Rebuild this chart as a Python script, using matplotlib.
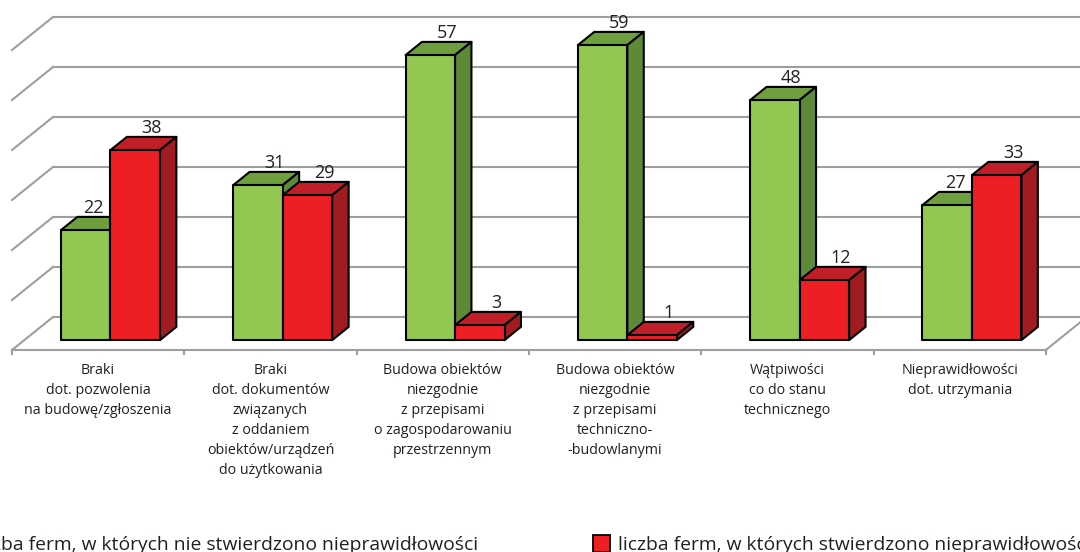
import matplotlib
matplotlib.use("Agg")
import matplotlib.pyplot as plt
from matplotlib.patches import Polygon, Rectangle

plt.rcParams['font.family'] = ['Open Sans', 'DejaVu Sans']

# ---------------- data ----------------
categories = [
    "Braki\ndot. pozwolenia\nna budowę/zgłoszenia",
    "Braki\ndot. dokumentów\nzwiązanych\nz oddaniem\nobiektów/urządzeń\ndo użytkowania",
    "Budowa obiektów\nniezgodnie\nz przepisami\no zagospodarowaniu\nprzestrzennym",
    "Budowa obiektów\nniezgodnie\nz przepisami\ntechniczno-\n-budowlanymi",
    "Wątpiwości\nco do stanu\ntechnicznego",
    "Nieprawidłowości\ndot. utrzymania",
]
no_issues = [22, 31, 57, 59, 48, 27]   # green
issues = [38, 29, 3, 1, 12, 33]        # red
grid_values = [0, 10, 20, 30, 40, 50, 60]
legend_labels = ["liczba ferm, w których nie stwierdzono nieprawidłowości",
                 "liczba ferm, w których stwierdzono nieprawidłowości"]

# ---------------- geometry ----------------
W_PX, H_PX = 1080, 552
PX_CAT = 172.3      # pixels per category
PX_UNIT = 5.0       # pixels per value unit
ORIGIN_X, ORIGIN_Y = 12, 350   # front-left floor corner (pixels from top-left)
DEPTH_X = 41 / PX_CAT
DEPTH_V = 33 / PX_UNIT
BAR_W = 49.5 / PX_CAT
D0, D1 = 0.3, 0.7

green = dict(front="#92c851", top="#6e9e3d", side="#5e8a38")
red = dict(front="#ed1e24", top="#c11f28", side="#a11c21")
grid_col = "#9e9e9e"
text_col = "#231f20"


def proj(x, v, d):
    return (x + d * DEPTH_X, v + d * DEPTH_V)


fig = plt.figure(figsize=(W_PX / 100, H_PX / 100), dpi=100)
ax = fig.add_axes([0, 0, 1, 1])
ax.set_xlim(-ORIGIN_X / PX_CAT, (W_PX - ORIGIN_X) / PX_CAT)
ax.set_ylim(-(H_PX - ORIGIN_Y) / PX_UNIT, ORIGIN_Y / PX_UNIT)
ax.axis('off')

n = len(categories)

# back wall gridlines + left wall diagonals
for v in grid_values:
    p0, p1 = proj(0, v, 1), proj(n + 0.3, v, 1)
    ax.plot([p0[0], p1[0]], [p0[1], p1[1]], color=grid_col, lw=1.5, zorder=1)
    q0, q1 = proj(0, v, 0), proj(0, v, 1)
    ax.plot([q0[0], q1[0]], [q0[1], q1[1]], color=grid_col, lw=1.5, zorder=1)

# floor front edge, right edge and ticks
ax.plot([0, n], [0, 0], color=grid_col, lw=1.5, zorder=1)
r0, r1 = proj(n, 0, 0), proj(n, 0, 1)
ax.plot([r0[0], r1[0]], [r0[1], r1[1]], color=grid_col, lw=1.5, zorder=1)
for i in range(n + 1):
    ax.plot([i, i], [0, -0.8], color=grid_col, lw=1.5, zorder=1)


def draw_bar(x0, x1, val, cols):
    faces = [
        ([proj(x0, val, D0), proj(x1, val, D0), proj(x1, val, D1), proj(x0, val, D1)], cols["top"]),
        ([proj(x1, 0, D0), proj(x1, 0, D1), proj(x1, val, D1), proj(x1, val, D0)], cols["side"]),
        ([proj(x0, 0, D0), proj(x1, 0, D0), proj(x1, val, D0), proj(x0, val, D0)], cols["front"]),
    ]
    for pts, c in faces:
        ax.add_patch(Polygon(pts, closed=True, facecolor=c, edgecolor="black",
                             lw=1.5, joinstyle="round", zorder=3))


for i in range(n):
    c = i + 0.5
    g, r = no_issues[i], issues[i]
    draw_bar(c - BAR_W, c, g, green)
    draw_bar(c, c + BAR_W, r, red)

    gx, gy = proj(c - BAR_W / 2, g, D1)
    shift = -6 if r > g else 0
    ax.annotate(str(g), (gx, gy), xytext=(shift, 3), textcoords="offset points",
                ha="center", va="baseline", fontsize=13, color=text_col, zorder=5)
    rx, ry = proj(c + BAR_W / 2, r, D1)
    ax.annotate(str(r), (rx, ry), xytext=(0, 3), textcoords="offset points",
                ha="center", va="baseline", fontsize=13, color=text_col, zorder=5)

    ax.text(c, -2.6, categories[i], ha="center", va="top", fontsize=10.3,
            color=text_col, linespacing=1.45)

# legend (partly cut off at the edges like in the source)
fig.text(478 / W_PX, 2 / H_PX, legend_labels[0], ha="right", va="baseline",
         fontsize=13.9, color=text_col)
fig.patches.append(Rectangle((593 / W_PX, 0), 17 / W_PX, 17 / H_PX,
                             transform=fig.transFigure, facecolor=red["front"],
                             edgecolor="black", lw=1.3))
fig.text(618 / W_PX, 2 / H_PX, legend_labels[1], ha="left", va="baseline",
         fontsize=13.9, color=text_col)

fig.savefig("out.png", dpi=100)
